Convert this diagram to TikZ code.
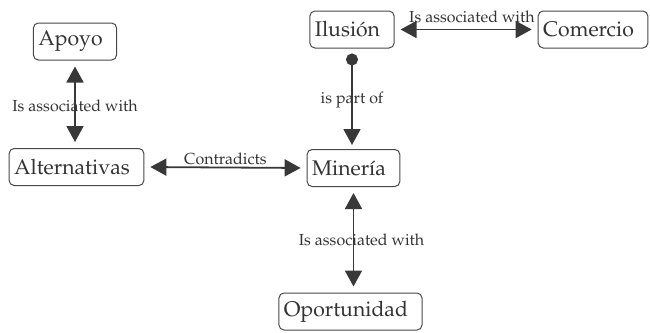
\documentclass[tikz,border=0pt]{standalone}
\usepackage[T1]{fontenc}
\usepackage{mathpazo}
\usetikzlibrary{arrows.meta}
\definecolor{txtgray}{HTML}{333333}
\definecolor{linegray}{HTML}{383838}
\definecolor{boxgray}{HTML}{484848}

\begin{document}
\begin{tikzpicture}[x=0.5pt, y=-0.5pt,
        concept/.style = {draw=boxgray, line width=0.5pt, rounded corners=2.5pt, minimum height=18.5pt,
                          inner xsep=2.5pt, text=txtgray, font=\fontsize{10.6}{12}\selectfont,
                          execute at end node=\hspace*{4.5pt}},
        link/.style = {draw=linegray, line width=0.9pt, shorten <=3pt, shorten >=3pt},
        both/.style = {link, {Triangle[length=8pt, width=8.5pt]}-{Triangle[length=8pt, width=8.5pt]}},
        part/.style = {link, {Circle[length=6pt]}-{Triangle[length=8pt, width=8.5pt]}, shorten <=2.5pt, shorten >=2pt},
        lbl/.style = {text=txtgray, font=\fontsize{8}{9.6}\selectfont, inner sep=1pt}]
                \useasboundingbox (0,0) rectangle (650,333);
                \node[concept] (apoyo) at (75,41.5) {Apoyo};
                \node[concept] (alternativas) at (76.5,167) {Alternativas};
                \node[concept] (ilusion) at (352,29.5) {Ilusi\'on};
                \node[concept] (comercio) at (593,29.5) {Comercio};
                \node[concept] (mineria) at (353.5,168) {Miner\'{\i}a};
                \node[concept] (oportunidad) at (350.5,311.5) {Oportunidad};
                \draw[both] (apoyo.south) -- (apoyo.south |- alternativas.north) node[lbl, midway, yshift=-1pt] {Is associated with};
                \draw[both] (alternativas.east) -- (mineria.west) node[lbl, midway, above] {Contradicts};
                \draw[both] (ilusion.east) -- (comercio.west) node[lbl, pos=0.54, above, yshift=2pt] {Is associated with};
                \draw[part] (ilusion.south) -- (ilusion.south |- mineria.north) node[lbl, midway, yshift=-0.5pt] {is part of};
                \draw[both] (mineria.south) -- (mineria.south |- oportunidad.north) node[lbl, midway, xshift=4pt] {Is associated with};
\end{tikzpicture}
\end{document}
